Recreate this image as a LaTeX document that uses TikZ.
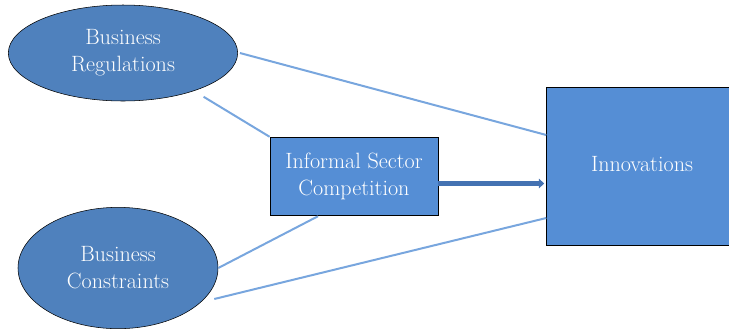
\documentclass[tikz,border=0pt]{standalone}
\usepackage{tikz}
\usetikzlibrary{positioning, shapes, arrows, calc, arrows.meta}
\definecolor{ovalblue}{RGB}{79,129,189}
\definecolor{boxblue}{RGB}{85,142,213}
\definecolor{linkblue}{RGB}{120,166,222}
\definecolor{flowblue}{RGB}{68,114,178}
\tikzset{%
  factor/.style = {draw, ellipse, fill = ovalblue, text = white,
    align = center, inner sep = 0pt},
  block/.style  = {draw, semithick, rectangle, fill = boxblue, text = white,
    align = center, inner sep = 0pt},
  link/.style   = {draw = linkblue, line width = 1.5pt},
  flow/.style   = {draw = flowblue, line width = 3.2pt,
    -{Triangle[length = 4pt, width = 7pt]}}
}
\newcommand{\boxfont}{\fontsize{16.6}{20.3}\selectfont}

\begin{document}
\begin{tikzpicture}[x = 0.75pt, y = -0.75pt, font = \boxfont]
\useasboundingbox (0,0) rectangle (729,330);
\clip (0,0) rectangle (729,330);
%factor and outcome blocks
\draw
	(123,53) node [factor, minimum width = 172pt, minimum height = 72pt] (reg) {Business\\Regulations}
	(118,268) node [factor, minimum width = 150pt, minimum height = 91pt] (con) {Business\\Constraints}
	(354,176.5) node [block, minimum width = 126pt, minimum height = 59pt] (isc) {Informal Sector\\Competition}
	(642,166) node [block, minimum width = 143pt, minimum height = 118.5pt] (inn) {\raisebox{3pt}{Innovations}};
%links
\draw[link] ([shift = {(2,0)}]reg.east) -- ([shift = {(0,-31)}]inn.west);
\draw[link] (isc.north west) -- ++(-66,-40);
\draw[link] ([shift = {(-36,0)}]isc.south) -- (con.east);
\draw[link] ([shift = {(-4,31)}]con.east) -- ([shift = {(0,52)}]inn.west);
%main arrow
\draw[flow, shorten > = 1.5pt] ([shift = {(0,7)}]isc.east) -- ([shift = {(0,17.5)}]inn.west);
\end{tikzpicture}
\end{document}
